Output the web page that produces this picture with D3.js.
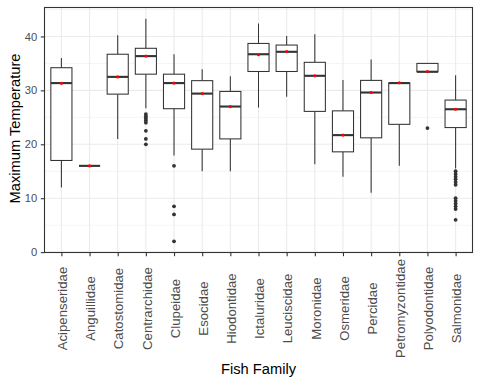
<!DOCTYPE html>
<html>
<head>
<meta charset="utf-8">
<script src="https://cdn.jsdelivr.net/npm/d3@7"></script>
<style>
  body { margin: 0; background: #fff; }
  text { font-family: "Liberation Sans", Arial, sans-serif; }
</style>
</head>
<body>
<div id="chart"></div>
<script>
var svgWidth = 480;
var svgHeight = 384;

// data
var families = ["Acipenseridae", "Anguillidae", "Catostomidae", "Centrarchidae", "Clupeidae",
  "Esocidae", "Hiodontidae", "Ictaluridae", "Leuciscidae", "Moronidae", "Osmeridae",
  "Percidae", "Petromyzontidae", "Polyodontidae", "Salmonidae"];
var whiskerLow  = [12.0, 16.0, 21.0, 26.7, 17.9, 15.0, 15.0, 26.8, 28.8, 16.3, 14.0, 11.0, 16.0, 33.45, 15.5];
var q1          = [17.0, 16.0, 29.3, 33.0, 26.6, 19.1, 21.0, 33.5, 33.5, 26.1, 18.6, 21.2, 23.7, 33.45, 23.1];
var medians     = [31.35, 16.0, 32.5, 36.35, 31.35, 29.4, 27.0, 36.7, 37.15, 32.7, 21.7, 29.6, 31.35, 33.45, 26.5];
var q3          = [34.2, 16.0, 36.7, 37.8, 33.0, 31.8, 29.8, 38.7, 38.4, 35.2, 26.2, 31.85, 31.35, 35.0, 28.2];
var whiskerHigh = [36.0, 16.0, 40.2, 43.3, 36.7, 33.9, 32.6, 42.4, 40.1, 40.4, 31.9, 35.7, 31.35, 35.0, 32.8];
var means       = [31.3, 16.0, 32.5, 36.35, 31.35, 29.4, 27.0, 36.6, 37.2, 32.7, 21.7, 29.6, 31.4, 33.5, 26.5];
var outliers = [
  [], [], [],
  [25.6, 25.2, 24.8, 24.4, 24.0, 22.5, 21.0, 20.0],
  [16.0, 8.5, 7.0, 2.0],
  [], [], [], [], [], [], [], [],
  [23.0],
  [15.0, 14.5, 14.0, 13.5, 13.0, 12.5, 10.0, 9.5, 9.0, 8.5, 8.0, 6.0]
];
var yTicks = [0, 10, 20, 30, 40];
var yMinor = [5, 15, 25, 35, 45];

var margin = { top: 7.5, right: 7.5, bottom: 131.5, left: 44.5 };
var chartWidth = svgWidth - margin.left - margin.right;
var chartHeight = svgHeight - margin.top - margin.bottom;

var boxes = families.map((f, i) => ({
  family: f, lo: whiskerLow[i], q1: q1[i], med: medians[i], q3: q3[i],
  hi: whiskerHigh[i], mean: means[i], out: outliers[i]
}));

var allVals = d3.merge([whiskerLow, whiskerHigh, d3.merge(outliers)]);
var ext = d3.extent(allVals);
var pad = (ext[1] - ext[0]) * 0.05;

var svg = d3.select("#chart")
  .append("svg")
  .attr("width", svgWidth)
  .attr("height", svgHeight);

var chartGroup = svg.append("g")
  .attr("transform", `translate(${margin.left}, ${margin.top})`);

var xScale = d3.scalePoint()
  .domain(families)
  .range([0, chartWidth])
  .padding(0.6);

var yScale = d3.scaleLinear()
  .domain([ext[0] - pad, ext[1] + pad])
  .range([chartHeight, 0]);

var boxW = xScale.step() * 0.75;

// grid
chartGroup.selectAll(".minor")
  .data(yMinor.filter(v => v <= yScale.domain()[1]))
  .enter().append("line")
  .attr("x1", 0).attr("x2", chartWidth)
  .attr("y1", d => yScale(d)).attr("y2", d => yScale(d))
  .attr("stroke", "#EBEBEB").attr("stroke-width", 0.55);

chartGroup.selectAll(".majorY")
  .data(yTicks)
  .enter().append("line")
  .attr("x1", 0).attr("x2", chartWidth)
  .attr("y1", d => yScale(d)).attr("y2", d => yScale(d))
  .attr("stroke", "#EBEBEB").attr("stroke-width", 1.1);

chartGroup.selectAll(".majorX")
  .data(families)
  .enter().append("line")
  .attr("x1", d => xScale(d)).attr("x2", d => xScale(d))
  .attr("y1", 0).attr("y2", chartHeight)
  .attr("stroke", "#EBEBEB").attr("stroke-width", 1.1);

// boxes
var g = chartGroup.selectAll(".box")
  .data(boxes)
  .enter().append("g")
  .attr("transform", d => `translate(${xScale(d.family)},0)`);

g.append("line")
  .attr("y1", d => yScale(d.q3)).attr("y2", d => yScale(d.hi))
  .attr("stroke", "#333333").attr("stroke-width", 1.05);
g.append("line")
  .attr("y1", d => yScale(d.q1)).attr("y2", d => yScale(d.lo))
  .attr("stroke", "#333333").attr("stroke-width", 1.05);
g.append("rect")
  .attr("x", -boxW / 2).attr("width", boxW)
  .attr("y", d => yScale(d.q3))
  .attr("height", d => yScale(d.q1) - yScale(d.q3))
  .attr("fill", "#fff").attr("stroke", "#333333").attr("stroke-width", 1.05);
g.append("line")
  .attr("x1", -boxW / 2).attr("x2", boxW / 2)
  .attr("y1", d => yScale(d.med)).attr("y2", d => yScale(d.med))
  .attr("stroke", "#333333").attr("stroke-width", 2.1);
g.selectAll(".out")
  .data(d => d.out)
  .enter().append("circle")
  .attr("cy", d => yScale(d))
  .attr("r", 1.9)
  .attr("fill", "#333333");
g.append("circle")
  .attr("cy", d => yScale(d.mean))
  .attr("r", 1.6)
  .attr("fill", "red");

// border
chartGroup.append("rect")
  .attr("width", chartWidth).attr("height", chartHeight)
  .attr("fill", "none").attr("stroke", "#333333").attr("stroke-width", 1.1);

// axes
var leftAxis = d3.axisLeft(yScale).tickValues(yTicks).tickSize(3.7).tickPadding(3.5);
var yAx = chartGroup.append("g").call(leftAxis);
yAx.select(".domain").remove();
yAx.selectAll("line").attr("stroke", "#333333").attr("stroke-width", 1.1);
yAx.selectAll("text").attr("fill", "#4D4D4D").style("font-size", "11.2px")
  .style("font-family", "Liberation Sans, Arial, sans-serif");

var bottomAxis = d3.axisBottom(xScale).tickSize(3.7).tickPadding(2.5);
var xAx = chartGroup.append("g")
  .attr("transform", `translate(0, ${chartHeight})`)
  .call(bottomAxis);
xAx.select(".domain").remove();
xAx.selectAll("line").attr("stroke", "#333333").attr("stroke-width", 1.1);
xAx.selectAll("text")
  .attr("fill", "#4D4D4D").style("font-size", "13.2px")
  .style("font-family", "Liberation Sans, Arial, sans-serif")
  .attr("x", 0).attr("y", 0).attr("dy", "0.4em")
  .attr("transform", `translate(0, ${308.5 - margin.top - chartHeight}) rotate(-90)`)
  .style("text-anchor", "middle");

// titles
svg.append("text")
  .attr("x", margin.left + chartWidth / 2)
  .attr("y", 374)
  .attr("text-anchor", "middle")
  .style("font-size", "14.7px")
  .text("Fish Family");

svg.append("text")
  .attr("transform", `translate(19.5, ${margin.top + chartHeight / 2 - 1.5}) rotate(-90)`)
  .attr("text-anchor", "middle")
  .style("font-size", "14.7px")
  .text("Maximum Temperature");
</script>
</body>
</html>
